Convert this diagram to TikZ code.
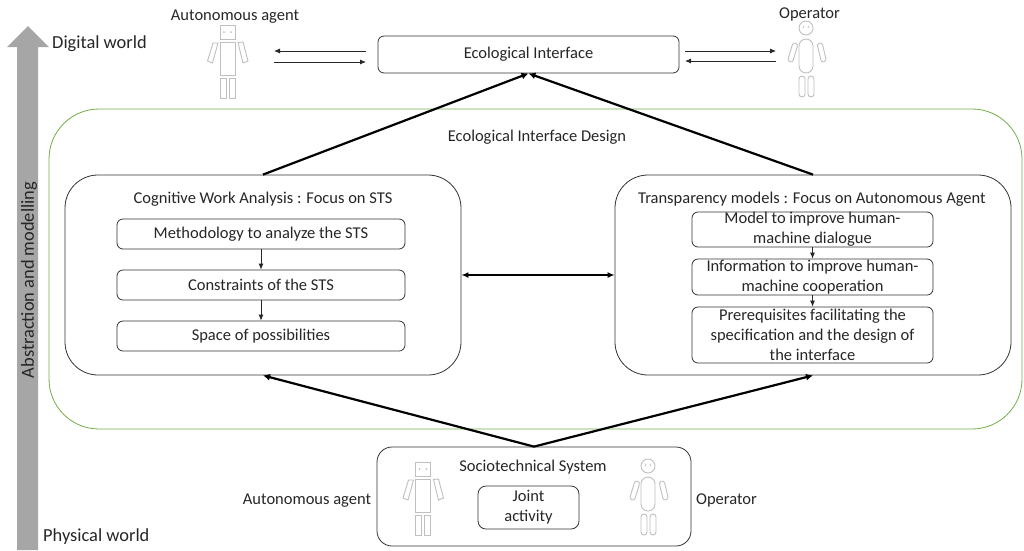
\documentclass[tikz,border=0pt]{standalone}
\usepackage{fontspec}
\setmainfont{Carlito}
\usetikzlibrary{arrows.meta}
\definecolor{frame}{HTML}{70AD47}
\tikzset{
  x=1pt,y=-1pt,
  txt/.style={inner sep=0pt,align=center,text=black!85,font=\fontsize{16.5}{20}\selectfont},
  bigtxt/.style={txt,font=\fontsize{18.4}{20}\selectfont},
  box/.style={draw=black!80,line width=0.8pt,fill=white,rounded corners=#1,inner sep=0pt,align=center,text=black!85,font=\fontsize{16.5}{20}\selectfont},
  box/.default=6pt,
  thin arrow/.style={draw=black!85,line width=0.8pt,-{Latex[length=6pt,width=5pt]}},
  thick arrow/.style={draw=black,line width=2.2pt,-{Latex[length=7pt,width=7pt]}},
  figure/.style={draw=black!25,line width=0.9pt},
  robot/.pic={
    \draw[figure] (-7.5,-37) rectangle (7.5,-23);
    \fill[black!25] (-3.5,-30) circle (1) (3.5,-30) circle (1);
    \draw[figure] (-7.5,-20) rectangle (7.5,13);
    \draw[figure] (-7.5,16) rectangle (-1.5,36);
    \draw[figure] (1.5,16) rectangle (7.5,36);
    \draw[figure] (-14.5,-19) -- (-9.5,-19) -- (-15,1) -- (-20,-1) -- cycle;
    \draw[figure] (10.5,-19.5) -- (15.5,-20) -- (20.5,-1) -- (15.5,1) -- cycle;
  },
  human/.pic={
    \draw[figure] (0,-34) circle (7);
    \fill[black!25] (-2.5,-35) circle (0.9) (2.5,-35) circle (0.9);
    \draw[figure,rounded corners=7pt] (-7,-23) rectangle (7,11);
    \draw[figure,rounded corners=3pt] (-7,14) rectangle (-1,35);
    \draw[figure,rounded corners=3pt] (2,14) rectangle (8,35);
    \draw[figure,rounded corners=2.4pt] (-13,-19.5) -- (-8,-18) -- (-13.5,0.5) -- (-18.5,-1) -- cycle;
    \draw[figure,rounded corners=2.4pt] (11,-18) -- (16,-19.5) -- (20.5,-1) -- (15.5,0.5) -- cycle;
  },
}
\begin{document}
\begin{tikzpicture}
\useasboundingbox (0,0) rectangle (1024,550);
% big arrow
\fill[black!35] (17,550) -- (17,47) -- (7,47) -- (28,26) -- (49,47) -- (38,47) -- (38,550) -- cycle;
\node[bigtxt,rotate=90] (abs) at (29,280) {Abstraction and modelling};
\node[bigtxt,anchor=west] (dw) at (52,44) {Digital world};
\node[bigtxt,anchor=west] (pw) at (43,537) {Physical world};
% green frame
\node[draw=frame,line width=0.8pt,rounded corners=50pt,minimum width=973pt,minimum height=320pt,inner sep=0pt] (eid) at (535.5,269) {};
\node[txt] (eidt) at (537,137.5) {Ecological Interface Design};
% top
\node[box,minimum width=301pt,minimum height=37pt] (ei) at (528.5,54.5) {\raisebox{-1.5pt}{Ecological Interface}};
\pic at (227.5,62) {robot};
\pic at (806,62) {human};
\node[txt] (aa1) at (235,16.5) {Autonomous agent};
\node[txt] (op1) at (809.5,14.5) {Operator};
\coordinate (a1) at (274,51); \coordinate (a2) at (366,51);
\coordinate (a3) at (274,62); \coordinate (a4) at (366,62);
\coordinate (b1) at (685,51); \coordinate (b2) at (776,51);
\coordinate (b3) at (685,61); \coordinate (b4) at (776,61);
\draw[thin arrow] (a2) -- (a1);
\draw[thin arrow] (a3) -- (a4);
\draw[thin arrow] (b1) -- (b2);
\draw[thin arrow] (b4) -- (b3);
% CWA
\node[box=33pt,minimum width=396pt,minimum height=200pt] (cwa) at (263,275) {};
\node[txt] (cwat) at (263,199) {Cognitive Work Analysis : Focus on STS};
\node[box,minimum width=288pt,minimum height=30pt] (c1) at (261,234) {\raisebox{-1.5pt}{Methodology to analyze the STS}};
\node[box,minimum width=288pt,minimum height=30pt] (c2) at (261,285) {\raisebox{-1.5pt}{Constraints of the STS}};
\node[box,minimum width=288pt,minimum height=30pt] (c3) at (261,336) {\raisebox{-1.5pt}{Space of possibilities}};
\draw[thin arrow] (c1) -- (c2);
\draw[thin arrow] (c2) -- (c3);
% Transparency
\node[box=33pt,minimum width=396pt,minimum height=200pt] (tm) at (813,275) {};
\node[txt] (tmt) at (812,199) {Transparency models : Focus on Autonomous Agent};
\node[box,minimum width=241pt,minimum height=35pt] (t1) at (812.5,229.5) {\raisebox{-1pt}{\shortstack{}}Model to improve human-\\machine dialogue};
\node[box,minimum width=241pt,minimum height=36pt] (t2) at (812.5,277) {Information to improve human-\\machine cooperation};
\node[box,minimum width=241pt,minimum height=56pt] (t3) at (812.5,335) {Prerequisites facilitating the\\specification and the design of\\the interface};
\draw[thin arrow] (t1) -- (t2);
\draw[thin arrow] (t2) -- (t3);
\draw[draw=black,line width=1.5pt,{Latex[length=7pt,width=6pt]}-{Latex[length=7pt,width=6pt]}] (cwa.east) -- (tm.west);
% STS
\node[box=15pt,minimum width=314pt,minimum height=99pt] (sts) at (534,496.5) {};
\node[txt] (stst) at (533,467.5) {Sociotechnical System};
\node[box=8pt,minimum width=101pt,minimum height=43pt] (ja) at (528.5,507.5) {Joint\\activity};
\pic at (423,499) {robot};
\pic at (648,500) {human};
\node[txt] (aa2) at (307,500.5) {Autonomous agent};
\node[txt] (op2) at (726.5,500.5) {Operator};
% thick arrows
\draw[thick arrow] (cwa.north) -- (ei.south);
\draw[thick arrow] (tm.north) -- (ei.south);
\draw[thick arrow] (sts.north) -- (cwa.south);
\draw[thick arrow] (sts.north) -- (tm.south);
\end{tikzpicture}
\end{document}
